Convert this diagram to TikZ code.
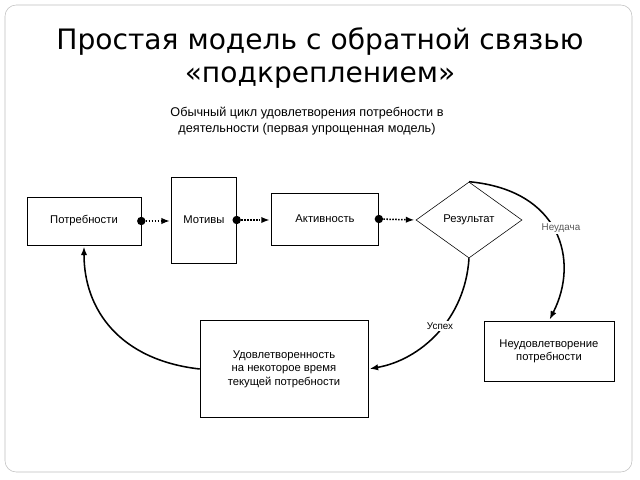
\documentclass[tikz,border=0pt]{standalone}
\usepackage{fontspec}
\setmainfont{Liberation Sans}
\newfontfamily\titlefont{DejaVu Sans}
\usetikzlibrary{arrows.meta, positioning, calc, shapes.geometric}

\begin{document}
\begin{tikzpicture}[x=0.025cm,y=-0.025cm,
        every node/.style={font=\footnotesize},
        box/.style={rectangle,draw,thin,inner sep=0pt,align=center},
        flow/.style={-{Latex[length=6pt]},line width=1.1pt,shorten >=1pt},
        dot/.style={circle,fill=black,inner sep=0pt,minimum size=6pt}
      ]
      \useasboundingbox (0,0) rectangle (640,480);
      \draw[gray!50,rounded corners=8pt] (5,5) rectangle (632,472);

      % titles
      \node[font=\titlefont\fontsize{20}{24}\selectfont,align=center] (title) at (320,58)
        {Простая модель с обратной связью\\«подкреплением»};
      \node[align=center,font=\small] (sub) at (307,121)
        {Обычный цикл удовлетворения потребности в\\деятельности (первая упрощенная модель)};

      % main row
      \node[box,minimum width=2.85cm,minimum height=1.2cm] (need) at (84,221) {Потребности};
      \node[box,minimum width=1.62cm,minimum height=2.15cm] (motive) at (204,220) {Мотивы};
      \node[box,minimum width=2.68cm,minimum height=1.3cm] (act) at (325,219) {Активность};
      \node[diamond,draw,thin,minimum width=2.65cm,minimum height=1.9cm,inner sep=0pt] (res) at (469,220) {Результат};

      % outcomes
      \node[box,minimum width=4.2cm,minimum height=2.42cm] (ok) at (284,369)
        {Удовлетворенность\\на некоторое время\\текущей потребности};
      \node[box,minimum width=3.25cm,minimum height=1.5cm] (fail) at (549,351)
        {Неудовлетворение\\потребности};

      % dots and arrows
      \node[dot] (d1) at (need.east) {};
      \node[dot] (d2) at (motive.east) {};
      \node[dot] (d3) at (act.east) {};
      \draw[flow,densely dotted] (d1) -- (motive.west |- d1);
      \draw[flow,densely dotted] (d2) -- (act.west |- d2);
      \draw[flow,densely dotted] (d3) -- (res.west);

      % feedback
      \draw[flow] (res.north) .. controls (560,190) and (580,260) .. (fail.north);
      \node[font=\scriptsize,gray!70!black,fill=white,inner sep=1pt] (l1) at (561,228) {Неудача};
      \draw[flow] (res.south) .. controls (465,320) and (420,360) .. (ok.east);
      \node[font=\scriptsize,fill=white,inner sep=1pt] (l2) at (440,326) {Успех};
      \draw[flow] (ok.west) .. controls (120,360) and (84,310) .. (need.south);
    \end{tikzpicture}
\end{document}
